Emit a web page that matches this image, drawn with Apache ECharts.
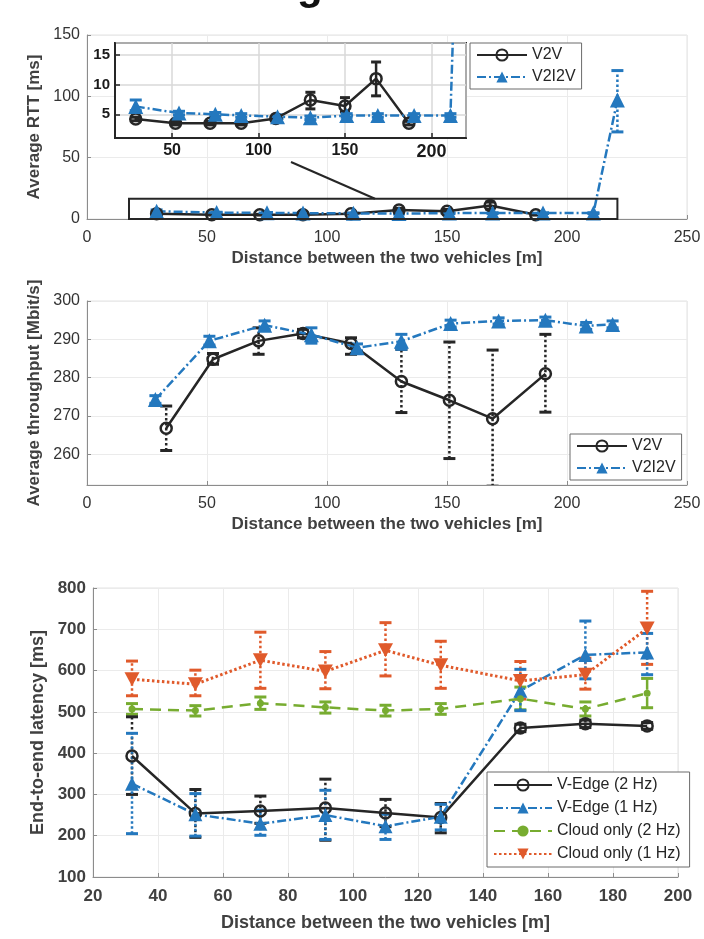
<!DOCTYPE html>
<html>
<head>
<meta charset="utf-8">
<title>RTT / throughput / latency vs distance</title>
<script src="https://cdn.jsdelivr.net/npm/echarts@6/dist/echarts.min.js"></script>
<style>
body{margin:0;background:#fff;}
#chart{width:704px;height:939px;}
</style>
</head>
<body>
<div id="chart"></div>
<script>
// ---- top: average RTT ----
const rttV2vX  = [29, 52, 72, 90, 110, 130, 150, 168, 187]
const rttV2vY  = [4.2, 3.5, 3.5, 3.5, 4.3, 7.4, 6.4, 11.0, 3.5]
const rttV2vLo = [3.9, 3.2, 3.2, 3.2, 4.0, 5.9, 5.4, 8.1, 3.2]
const rttV2vHi = [4.5, 3.8, 3.8, 3.8, 4.6, 8.7, 7.8, 13.8, 3.8]

const rttI2vX  = [29, 54, 75, 90, 111, 130, 151, 169, 190, 211, 221]
const rttI2vY  = [6.3, 5.2, 5.0, 4.8, 4.6, 4.4, 4.8, 4.8, 4.8, 4.8, 97]
const rttI2vLo = [5.6, 4.9, 4.7, 4.5, 4.3, 4.1, 4.5, 4.5, 4.5, 4.5, 71]
const rttI2vHi = [7.4, 5.5, 5.3, 5.1, 4.9, 4.7, 5.1, 5.1, 5.1, 5.1, 121]

// zoom rectangle and the line tying it to the inset
const zoomBox  = [[17.5, 0], [221, 16.5]]
const zoomLink = [[85, 46.5], [120, 16.5]]

// ---- middle: average throughput ----
const thrV2vX  = [33, 52.5, 71.5, 90, 110, 131, 151, 169, 191]
const thrV2vY  = [266.8, 284.8, 289.6, 291.5, 288.9, 279, 274.1, 269.3, 281]
const thrV2vLo = [261, 283.5, 286.1, 290.4, 286.1, 270.9, 258.9, 251.7, 271]
const thrV2vHi = [272.6, 286.3, 293, 292.6, 290.4, 287.4, 289.3, 287.2, 291.3]

const thrI2vX  = [28.5, 51, 74, 93.5, 112.5, 131, 151.5, 171.5, 191, 208, 219]
const thrI2vY  = [274.3, 289.6, 293.7, 291.2, 287.8, 289.5, 294.1, 294.8, 295, 293.5, 293.9]
const thrI2vLo = [273.3, 288.5, 292.6, 289, 287, 287.4, 293.2, 294, 294.2, 292.6, 293]
const thrI2vHi = [275.3, 290.8, 294.8, 293, 288.8, 291.3, 295, 295.6, 295.8, 294.4, 294.8]

// ---- bottom: end-to-end latency ----
const latX = [32, 51.5, 71.5, 91.5, 110, 127, 151.5, 171.5, 190.5]

const edge2Y  = [393, 254, 260, 267, 255, 244, 461, 471, 466]
const edge2Lo = [300, 196, 230, 189, 222, 207, 452, 462, 458]
const edge2Hi = [488, 312, 296, 337, 288, 278, 470, 480, 474]

const edge1Y  = [326, 252, 229, 250, 223, 246, 551, 638, 644]
const edge1Lo = [205, 199, 201, 191, 191, 214, 503, 580, 590]
const edge1Hi = [448, 302, 262, 310, 252, 276, 603, 720, 690]

const cloud2Y  = [507, 503, 521, 511, 503, 507, 532, 507, 545]
const cloud2Lo = [494, 490, 506, 497, 490, 494, 505, 490, 510]
const cloud2Hi = [520, 515, 536, 524, 516, 520, 560, 524, 581]

const cloud1Y  = [579, 567, 625, 598, 649, 613, 575, 590, 702]
const cloud1Lo = [539, 539, 557, 556, 587, 557, 531, 555, 615]
const cloud1Hi = [623, 601, 693, 646, 716, 671, 622, 630, 792]

const BLACK = "#262626"
const BLUE = "#2478be"
const GREEN = "#77ac30"
const ORANGE = "#e05a2b"
const FONT = '"Liberation Sans", Arial, sans-serif'

const DASHDOT = [9, 3, 2, 3]
const DASHED = [11, 7]
const DOTTED = [2.5, 2.5]

const downTri = "path://M0,0 L10,0 L5,9 Z"

function pairs(xs, ys){
  return xs.map((x,i)=>[x, ys[i]])
}

function curve(name, xs, ys, st, ax, z){
  return {
    type:"line", name:name, xAxisIndex:ax, yAxisIndex:ax, z:z,
    data:pairs(xs, ys),
    symbol:st.symbol, symbolSize:st.size,
    lineStyle:{color:st.color, width:st.width || 2.5, type:st.dash},
    itemStyle:{color:st.fill, borderColor:st.color, borderWidth:st.bw || 0},
    emphasis:{disabled:true},
    animation:false
  }
}

function errBars(xs, lo, hi, color, dash, ax, cap, z){
  return {
    type:"custom", xAxisIndex:ax, yAxisIndex:ax, clip:true, silent:true, z:z,
    encode:{x:0, y:[1,2]},
    data:xs.map((x,i)=>[x, lo[i], hi[i]]),
    animation:false,
    renderItem(params, api){
      const b = api.coord([api.value(0), api.value(1)])
      const t = api.coord([api.value(0), api.value(2)])
      return {type:"group", children:[
        {type:"line", shape:{x1:b[0], y1:b[1], x2:t[0], y2:t[1]}, style:{stroke:color, lineWidth:2.5, lineDash:dash}},
        {type:"line", shape:{x1:t[0]-cap, y1:t[1], x2:t[0]+cap, y2:t[1]}, style:{stroke:color, lineWidth:3}},
        {type:"line", shape:{x1:b[0]-cap, y1:b[1], x2:b[0]+cap, y2:b[1]}, style:{stroke:color, lineWidth:3}}
      ]}
    }
  }
}

const circleSt = {symbol:"circle", size:11, color:BLACK, fill:"rgba(255,255,255,0)", bw:2.5, dash:"solid"}
const triSt = {symbol:"triangle", size:15, color:BLUE, fill:BLUE, dash:DASHDOT}

const labelBase = {color:"#333", fontFamily:FONT, fontSize:16}
const nameBase = {color:"#404040", fontFamily:FONT, fontSize:17, fontWeight:"bold"}

function mainX(grid, min, max, interval, gap, big){
  return {
    type:"value", gridIndex:grid, min:min, max:max, interval:interval,
    name:"Distance between the two vehicles [m]", nameLocation:"middle", nameGap:gap,
    nameTextStyle:Object.assign({}, nameBase, big ? {fontSize:18} : {}),
    axisLine:{show:true, onZero:false, lineStyle:{color:"#8c8c8c", width:1}},
    axisTick:{show:true, inside:true, length:4, lineStyle:{color:"#8c8c8c"}},
    axisLabel:Object.assign({margin:11}, labelBase, big ? {fontSize:17, fontWeight:"bold", color:"#404040"} : {}),
    splitLine:{show:true, lineStyle:{color:"#ebebeb", width:1}}
  }
}

function mainY(grid, min, max, interval, name, gap, big){
  const a = {
    type:"value", gridIndex:grid, min:min, max:max,
    name:name, nameLocation:"middle", nameGap:gap,
    nameTextStyle:Object.assign({}, nameBase, big ? {fontSize:18} : {}),
    axisLine:{show:true, onZero:false, lineStyle:{color:"#8c8c8c", width:1}},
    axisTick:{show:true, inside:true, length:4, lineStyle:{color:"#8c8c8c"}},
    axisLabel:Object.assign({margin:7}, labelBase, big ? {fontSize:17, fontWeight:"bold", color:"#404040"} : {}),
    splitLine:{show:true, lineStyle:{color:"#ebebeb", width:1}}
  }
  if(interval){ a.interval = interval } else { a.splitNumber = 5; a.axisLabel.showMinLabel = false }
  return a
}

const legendBase = {
  orient:"vertical", backgroundColor:"#fff", borderColor:"#6b6b6b", borderWidth:1,
  padding:[4,6,4,6], itemWidth:50, itemHeight:14, itemGap:6, z:30,
  textStyle:{fontSize:16, color:BLACK, fontFamily:FONT}
}

const option = {
  backgroundColor:"#fff",
  animation:false,
  textStyle:{fontFamily:FONT},
  grid:[
    {left:87, top:35, width:600, height:184, show:true, borderColor:"#e3e3e3", borderWidth:1, backgroundColor:"#fff"},
    {left:115, top:43, width:351, height:95, show:true, borderColor:BLACK, borderWidth:2, backgroundColor:"#fff", z:10},
    {left:87, top:301, width:600, height:184, show:true, borderColor:"#e3e3e3", borderWidth:1, backgroundColor:"#fff"},
    {left:93, top:588, width:585, height:289, show:true, borderColor:"#e3e3e3", borderWidth:1, backgroundColor:"#fff"}
  ],
  xAxis:[
    mainX(0, 0, 250, 50, 31),
    {
      type:"value", gridIndex:1, min:17, max:220, splitNumber:4, z:11,
      axisLine:{show:true, onZero:false, lineStyle:{color:BLACK, width:2}},
      axisTick:{show:true, inside:true, length:5, lineStyle:{color:BLACK, width:1.5}},
      axisLabel:{margin:5, color:"#1a1a1a", fontFamily:FONT, fontSize:16, fontWeight:"bold",
        showMinLabel:false, showMaxLabel:false,
        formatter:v => v === 200 ? "{b|200}" : String(v),
        rich:{b:{fontSize:18, fontWeight:"bold", color:"#1a1a1a", fontFamily:FONT}}},
      splitLine:{show:true, lineStyle:{color:"#d9d9d9", width:1.5}}
    },
    mainX(2, 0, 250, 50, 31),
    mainX(3, 20, 200, 20, 37, true)
  ],
  yAxis:[
    mainY(0, 0, 150, 50, "Average RTT [ms]", 38),
    {
      type:"value", gridIndex:1, min:1, max:17, splitNumber:3, z:11,
      axisLine:{show:true, onZero:false, lineStyle:{color:BLACK, width:2}},
      axisTick:{show:true, inside:true, length:5, lineStyle:{color:BLACK, width:1.5}},
      axisLabel:{margin:5, color:"#1a1a1a", fontFamily:FONT, fontSize:15, fontWeight:"bold",
        showMinLabel:false, showMaxLabel:false},
      splitLine:{show:true, lineStyle:{color:"#d9d9d9", width:1.5}}
    },
    mainY(2, 252, 300, null, "Average throughput [Mbit/s]", 38),
    mainY(3, 100, 800, 100, "End-to-end latency [ms]", 46, true)
  ],
  legend:[
    Object.assign({}, legendBase, {data:["V2V","V2I2V"], left:470, top:43}),
    Object.assign({}, legendBase, {data:["V2V","V2I2V"], left:570, top:434}),
    Object.assign({}, legendBase, {data:["V-Edge (2 Hz)","V-Edge (1 Hz)","Cloud only (2 Hz)","Cloud only (1 Hz)"],
      left:487, top:772, itemWidth:58, itemGap:7, padding:[5,9,5,6]})
  ],
  graphic:[
    {type:"text", left:297, top:-34, z:50, style:{text:"g", font:"bold 42px " + FONT, fill:"#111"}}
  ],
  series:[]
}

const S = option.series

// top main
S.push(errBars(rttV2vX, rttV2vLo, rttV2vHi, BLACK, null, 0, 5, 2))
S.push(errBars(rttI2vX, rttI2vLo, rttI2vHi, BLUE, DOTTED, 0, 6, 2))
const topV2v = curve("V2V", rttV2vX, rttV2vY, circleSt, 0, 3)
topV2v.markArea = {silent:true, z:4, label:{show:false},
  itemStyle:{color:"rgba(0,0,0,0)", borderColor:BLACK, borderWidth:2},
  data:[[{coord:zoomBox[0]}, {coord:zoomBox[1]}]]}
topV2v.markLine = {silent:true, symbol:"none", label:{show:false},
  lineStyle:{color:BLACK, width:2, type:"solid"},
  data:[[{coord:zoomLink[0]}, {coord:zoomLink[1]}]]}
S.push(topV2v)
S.push(curve("V2I2V", rttI2vX, rttI2vY, triSt, 0, 3))

// inset
S.push(errBars(rttV2vX, rttV2vLo, rttV2vHi, BLACK, null, 1, 5, 12))
S.push(errBars(rttI2vX, rttI2vLo, rttI2vHi, BLUE, DOTTED, 1, 6, 12))
S.push(curve("V2V", rttV2vX, rttV2vY, circleSt, 1, 13))
S.push(curve("V2I2V", rttI2vX, rttI2vY, triSt, 1, 13))

// middle
S.push(errBars(thrV2vX, thrV2vLo, thrV2vHi, BLACK, DOTTED, 2, 6, 2))
S.push(errBars(thrI2vX, thrI2vLo, thrI2vHi, BLUE, DOTTED, 2, 6, 2))
S.push(curve("V2V", thrV2vX, thrV2vY, circleSt, 2, 3))
S.push(curve("V2I2V", thrI2vX, thrI2vY, triSt, 2, 3))

// bottom
S.push(errBars(latX, cloud2Lo, cloud2Hi, GREEN, DASHED, 3, 6, 2))
S.push(errBars(latX, cloud1Lo, cloud1Hi, ORANGE, DOTTED, 3, 6, 2))
S.push(errBars(latX, edge2Lo, edge2Hi, BLACK, DOTTED, 3, 6, 2))
S.push(errBars(latX, edge1Lo, edge1Hi, BLUE, DOTTED, 3, 6, 2))
S.push(curve("V-Edge (2 Hz)", latX, edge2Y, circleSt, 3, 3))
S.push(curve("V-Edge (1 Hz)", latX, edge1Y, {symbol:"triangle", size:14, color:BLUE, fill:BLUE, dash:DASHDOT}, 3, 3))
S.push(curve("Cloud only (2 Hz)", latX, cloud2Y, {symbol:"circle", size:7, color:GREEN, fill:GREEN, dash:DASHED}, 3, 3))
S.push(curve("Cloud only (1 Hz)", latX, cloud1Y, {symbol:downTri, size:[15,14], color:ORANGE, fill:ORANGE, dash:DOTTED, width:3}, 3, 3))

const chart = echarts.init(document.getElementById("chart"))
chart.setOption(option)
</script>
</body>
</html>
